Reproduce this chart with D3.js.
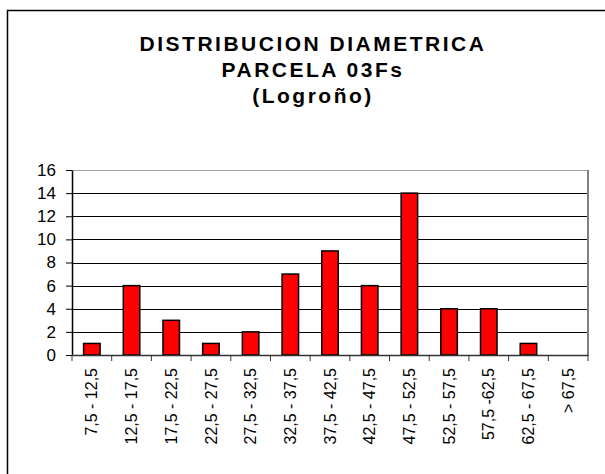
<!DOCTYPE html>
<html>
<head>
<meta charset="utf-8">
<script src="https://cdn.jsdelivr.net/npm/d3@7"></script>
<style>
  body { margin: 0; background: #fff; }
  svg { display: block; font-family: "Liberation Sans", Arial, sans-serif; }
</style>
</head>
<body>
<svg id="chart"></svg>
<script>
// chart data
const titleLines = ['DISTRIBUCION DIAMETRICA', 'PARCELA 03Fs', '(Logroño)'];
const categories = ['7,5 - 12,5', '12,5 - 17,5', '17,5 - 22,5', '22,5 - 27,5', '27,5 - 32,5',
  '32,5 - 37,5', '37,5 - 42,5', '42,5 - 47,5', '47,5 - 52,5', '52,5 - 57,5',
  '57,5 -62,5', '62,5 - 67,5', '> 67,5'];
const counts = [1, 6, 3, 1, 2, 7, 9, 6, 14, 4, 4, 1, 0];
const yTicks = [0, 2, 4, 6, 8, 10, 12, 14, 16];

const W = 605, H = 474;
const margin = { top: 170, right: 17, bottom: 119, left: 72 };
const width = W - margin.left - margin.right;
const height = H - margin.top - margin.bottom;

const svg = d3.select('#chart').attr('width', W).attr('height', H);

// outer frame (cut off on the right and bottom)
svg.append('rect')
  .attr('x', 7.5).attr('y', 10.5)
  .attr('width', 700).attr('height', 600)
  .attr('fill', 'none').attr('stroke', '#000').attr('stroke-width', 1.5);

// title
const title = svg.append('text')
  .attr('text-anchor', 'middle')
  .attr('font-size', 21)
  .attr('font-weight', 'bold')
  .attr('letter-spacing', 2.5)
  .attr('fill', '#000');
titleLines.forEach((t, i) => {
  title.append('tspan').attr('x', 313).attr('y', 51 + i * 26).text(t);
});

const g = svg.append('g').attr('transform', `translate(${margin.left},${margin.top})`);

const xb = d3.scaleBand().domain(categories).range([0, width]);
const y = d3.scaleLinear().domain([0, 16]).range([height, 0]);
const barW = 16.5;

// gridlines
g.selectAll('.grid').data(yTicks.filter(d => d > 0)).enter().append('line')
  .attr('class', 'grid')
  .attr('x1', 0).attr('x2', width)
  .attr('y1', d => Math.round(y(d)) + 0.5).attr('y2', d => Math.round(y(d)) + 0.5)
  .attr('stroke', d => d === 16 ? '#a0a0a0' : '#000').attr('stroke-width', 1);

// right border of plot
g.append('line')
  .attr('x1', width).attr('x2', width).attr('y1', 0).attr('y2', height)
  .attr('stroke', '#808080').attr('stroke-width', 2);

// bars
g.selectAll('.bar').data(counts).enter().append('rect')
  .attr('class', 'bar')
  .attr('x', (d, i) => xb(categories[i]) + (xb.bandwidth() - barW) / 2)
  .attr('width', barW)
  .attr('y', d => y(d))
  .attr('height', d => height - y(d))
  .attr('fill', d => d > 0 ? '#ff0000' : 'none')
  .attr('stroke', d => d > 0 ? '#000' : 'none')
  .attr('stroke-width', 1.5);

// y axis
const yAxis = g.append('g')
  .call(d3.axisLeft(y).tickValues(yTicks).tickSize(6).tickSizeOuter(0));
yAxis.select('.domain').attr('stroke', '#000').attr('stroke-width', 1.5);
yAxis.selectAll('.tick line').attr('stroke', '#000');
yAxis.selectAll('.tick text')
  .attr('font-size', 17).attr('font-family', '"Liberation Sans", Arial, sans-serif')
  .attr('fill', '#000').attr('x', -16);

// x axis with ticks at band boundaries
const xAxis = g.append('g').attr('transform', `translate(0,${height})`)
  .call(d3.axisBottom(xb).tickSize(0).tickSizeOuter(0));
xAxis.select('.domain').attr('stroke', '#333').attr('stroke-width', 1.5);
xAxis.selectAll('.tick text')
  .attr('font-size', 16).attr('font-family', '"Liberation Sans", Arial, sans-serif')
  .attr('fill', '#000')
  .attr('transform', 'rotate(-90)')
  .attr('text-anchor', 'end')
  .attr('x', -13).attr('y', 0).attr('dy', '0.35em');
g.selectAll('.xtick').data(categories.concat([null])).enter().append('line')
  .attr('class', 'xtick')
  .attr('x1', (d, i) => i * xb.bandwidth()).attr('x2', (d, i) => i * xb.bandwidth())
  .attr('y1', height).attr('y2', height + 6)
  .attr('stroke', '#333').attr('stroke-width', 1);
</script>
</body>
</html>
